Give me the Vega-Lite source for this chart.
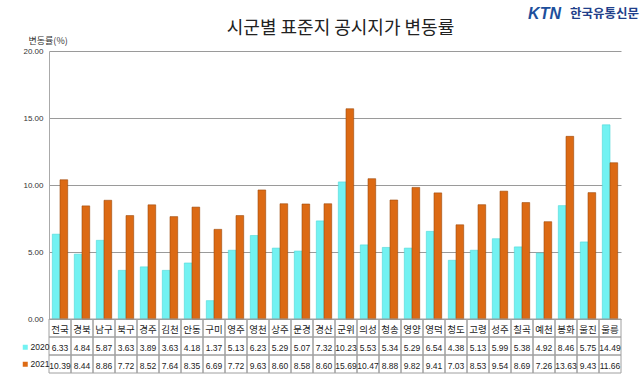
{
  "$schema": "https://vega.github.io/schema/vega-lite/v6.json",
  "background": "white",
  "padding": {"left": 20, "top": 6, "right": 2, "bottom": 2},
  "config": {"font": "Noto Sans CJK KR"},
  "title": {"text": "시군별 표준지 공시지가 변동률", "font": "Noto Sans CJK KR", "fontSize": 18, "fontWeight": "normal", "color": "#222", "anchor": "middle", "offset": -32, "dx": 11},
  "datasets": {
    "d": [
      {"category": "전국", "year": "2020", "value": 6.33}, {"category": "전국", "year": "2021", "value": 10.39},
      {"category": "경북", "year": "2020", "value": 4.84}, {"category": "경북", "year": "2021", "value": 8.44},
      {"category": "남구", "year": "2020", "value": 5.87}, {"category": "남구", "year": "2021", "value": 8.86},
      {"category": "북구", "year": "2020", "value": 3.63}, {"category": "북구", "year": "2021", "value": 7.72},
      {"category": "경주", "year": "2020", "value": 3.89}, {"category": "경주", "year": "2021", "value": 8.52},
      {"category": "김천", "year": "2020", "value": 3.63}, {"category": "김천", "year": "2021", "value": 7.64},
      {"category": "안동", "year": "2020", "value": 4.18}, {"category": "안동", "year": "2021", "value": 8.35},
      {"category": "구미", "year": "2020", "value": 1.37}, {"category": "구미", "year": "2021", "value": 6.69},
      {"category": "영주", "year": "2020", "value": 5.13}, {"category": "영주", "year": "2021", "value": 7.72},
      {"category": "영천", "year": "2020", "value": 6.23}, {"category": "영천", "year": "2021", "value": 9.63},
      {"category": "상주", "year": "2020", "value": 5.29}, {"category": "상주", "year": "2021", "value": 8.60},
      {"category": "문경", "year": "2020", "value": 5.07}, {"category": "문경", "year": "2021", "value": 8.58},
      {"category": "경산", "year": "2020", "value": 7.32}, {"category": "경산", "year": "2021", "value": 8.60},
      {"category": "군위", "year": "2020", "value": 10.23}, {"category": "군위", "year": "2021", "value": 15.69},
      {"category": "의성", "year": "2020", "value": 5.53}, {"category": "의성", "year": "2021", "value": 10.47},
      {"category": "청송", "year": "2020", "value": 5.34}, {"category": "청송", "year": "2021", "value": 8.88},
      {"category": "영양", "year": "2020", "value": 5.29}, {"category": "영양", "year": "2021", "value": 9.82},
      {"category": "영덕", "year": "2020", "value": 6.54}, {"category": "영덕", "year": "2021", "value": 9.41},
      {"category": "청도", "year": "2020", "value": 4.38}, {"category": "청도", "year": "2021", "value": 7.03},
      {"category": "고령", "year": "2020", "value": 5.13}, {"category": "고령", "year": "2021", "value": 8.53},
      {"category": "성주", "year": "2020", "value": 5.99}, {"category": "성주", "year": "2021", "value": 9.54},
      {"category": "칠곡", "year": "2020", "value": 5.38}, {"category": "칠곡", "year": "2021", "value": 8.69},
      {"category": "예천", "year": "2020", "value": 4.92}, {"category": "예천", "year": "2021", "value": 7.26},
      {"category": "봉화", "year": "2020", "value": 8.46}, {"category": "봉화", "year": "2021", "value": 13.63},
      {"category": "울진", "year": "2020", "value": 5.75}, {"category": "울진", "year": "2021", "value": 9.43},
      {"category": "울릉", "year": "2020", "value": 14.49}, {"category": "울릉", "year": "2021", "value": 11.66}
    ]
  },
  "spacing": 0,
  "bounds": "flush",
  "vconcat": [
    {
      "width": 572,
      "height": 268,
      "view": {"stroke": null},
      "layer": [
        {
          "data": {"name": "d"},
          "mark": {"type": "bar", "strokeWidth": 0.6},
          "encoding": {
            "x": {"field": "category", "type": "nominal", "sort": null, "axis": null, "scale": {"paddingInner": 0.3, "paddingOuter": 0.15}},
            "xOffset": {"field": "year", "type": "nominal"},
            "y": {"field": "value", "type": "quantitative", "scale": {"domain": [0, 20], "nice": false},
              "axis": {"values": [0, 5, 10, 15, 20], "format": ".2f", "labelFontSize": 8, "labelFont": "Liberation Sans", "labelColor": "#333", "ticks": false, "labelPadding": 6, "domain": true, "domainColor": "#aaa", "gridColor": "#9a9a9a", "gridWidth": 1,
                "title": "변동률(%)", "titleAngle": 0, "titleAlign": "left", "titleBaseline": "middle", "titleX": -21, "titleY": -11, "titleFontSize": 9, "titleFontWeight": "normal", "titleColor": "#333"}},
            "color": {"field": "year", "type": "nominal", "scale": {"domain": ["2020", "2021"], "range": ["#72f2f2", "#dc6a14"]},
              "legend": {"orient": "none", "legendX": -29, "legendY": 291, "title": null, "symbolType": "square", "symbolSize": 25, "labelFontSize": 8.5, "labelFont": "Liberation Sans", "labelColor": "#222", "rowPadding": 8, "labelOffset": 1, "symbolStrokeWidth": 0, "padding": 1}},
            "stroke": {"field": "year", "type": "nominal", "scale": {"domain": ["2020", "2021"], "range": ["#4fd6d6", "#9e4a0c"]}, "legend": null}
          }
        },
        {
          "data": {"values": [{}]},
          "mark": {"type": "text", "text": "KTN", "font": "Liberation Sans", "fontSize": 16, "fontWeight": "bold", "fontStyle": "italic", "color": "#1d4f9c", "align": "right", "baseline": "middle", "dx": -49},
          "encoding": {"x": {"datum": "울릉"}, "y": {"datum": 22.76}}
        },
        {
          "data": {"values": [{}]},
          "mark": {"type": "text", "text": "한국유통신문", "font": "Noto Sans CJK KR", "fontSize": 12.5, "fontWeight": "bold", "color": "#1f3f8a", "align": "right", "baseline": "middle", "dx": 29},
          "encoding": {"x": {"datum": "울릉"}, "y": {"datum": 22.76}}
        }
      ]
    },
    {
      "width": 572,
      "height": 54,
      "data": {"name": "d"},
      "view": {"stroke": null},
      "encoding": {
        "x": {"field": "category", "type": "nominal", "sort": null, "scale": {"paddingInner": 0, "paddingOuter": 0}, "axis": null}
      },
      "layer": [
        {
          "mark": {"type": "rect", "fill": "transparent", "stroke": "#a0a0a0", "strokeWidth": 1},
          "encoding": {
            "y": {"field": "year", "type": "nominal", "scale": {"domain": ["구분", "2020", "2021"], "paddingInner": 0, "paddingOuter": 0}, "axis": null}
          }
        },
        {
          "transform": [{"filter": "datum.year == '2020'"}],
          "mark": {"type": "rect", "fill": "transparent", "stroke": "#a0a0a0", "strokeWidth": 1},
          "encoding": {
            "y": {"datum": "구분"}
          }
        },
        {
          "mark": {"type": "text", "fontSize": 8.5, "font": "Liberation Sans", "color": "#222", "dy": 2},
          "encoding": {
            "y": {"field": "year", "type": "nominal"},
            "text": {"field": "value", "type": "quantitative", "format": ".2f"}
          }
        },
        {
          "transform": [{"filter": "datum.year == '2020'"}],
          "mark": {"type": "text", "fontSize": 9.5, "font": "Noto Sans CJK KR", "color": "#222", "dy": 2},
          "encoding": {
            "y": {"datum": "구분"},
            "text": {"field": "category", "type": "nominal"}
          }
        }
      ]
    }
  ]
}
